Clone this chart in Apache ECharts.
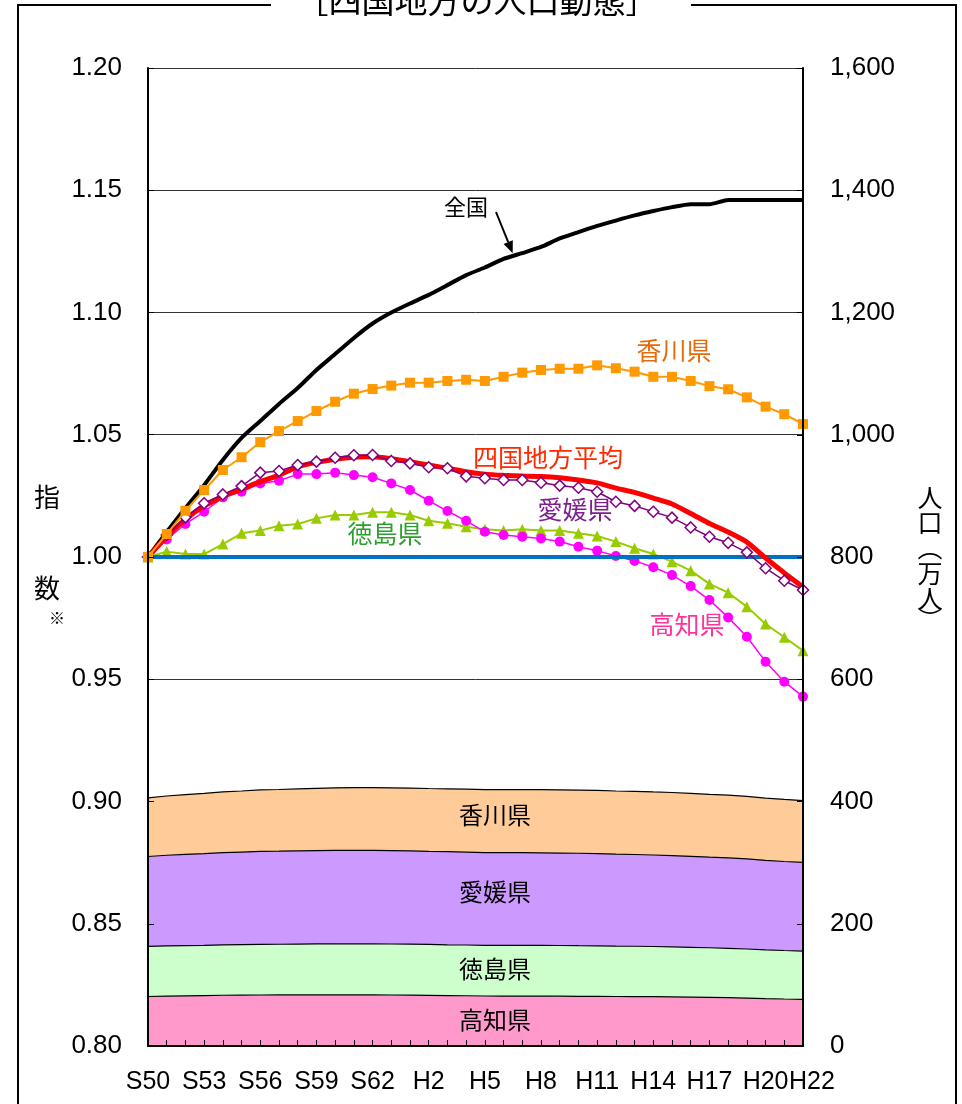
<!DOCTYPE html>
<html><head><meta charset="utf-8">
<script src="https://cdn.jsdelivr.net/npm/echarts@6/dist/echarts.min.js"></script>
<style>html,body{margin:0;padding:0;background:#fff}#c{width:962px;height:1104px}</style>
</head><body><div id="c"></div>
<script>
// categories (years: S50=1975 ... H22=2010)
const categories = ['S50','S51','S52','S53','S54','S55','S56','S57','S58','S59','S60','S61','S62','S63',
  'H1','H2','H3','H4','H5','H6','H7','H8','H9','H10','H11','H12','H13','H14','H15','H16','H17','H18','H19','H20','H21','H22'];

// index series (1975 = 1.00), left axis
const zenkoku   = [1.000,1.0102,1.020,1.0294,1.0397,1.0487,1.0556,1.0626,1.0691,1.0765,1.083,1.0896,1.0955,1.100,1.1037,1.1072,1.1112,1.1153,1.1184,1.1219,1.1243,1.1268,1.1303,1.1329,1.1354,1.1376,1.1397,1.1415,1.1431,1.1443,1.1443,1.146,1.146,1.146,1.146,1.146];
const shikoku   = [1.000,1.0083,1.0154,1.0209,1.0247,1.0277,1.0308,1.0335,1.0369,1.0387,1.040,1.0408,1.041,1.0402,1.039,1.0376,1.0363,1.0349,1.0339,1.0334,1.0331,1.0329,1.0324,1.0315,1.0303,1.0282,1.0264,1.0241,1.0217,1.0178,1.0137,1.0102,1.0061,0.9996,0.9935,0.9877];
const kagawa    = [1.000,1.0094,1.0189,1.0274,1.0356,1.0408,1.047,1.0515,1.0556,1.0597,1.0635,1.0668,1.0687,1.0701,1.0713,1.0713,1.072,1.0725,1.072,1.0737,1.0754,1.0765,1.077,1.077,1.0784,1.0772,1.0758,1.0737,1.0737,1.072,1.0699,1.0686,1.0653,1.0615,1.0584,1.0544];
const ehime     = [1.000,1.009,1.0162,1.022,1.0256,1.029,1.0345,1.0352,1.0376,1.039,1.0406,1.0416,1.0417,1.0393,1.0383,1.0367,1.0363,1.033,1.0322,1.0315,1.0315,1.0304,1.0292,1.0283,1.0267,1.0226,1.0209,1.0185,1.0161,1.0121,1.0083,1.0058,1.0019,0.9954,0.9903,0.9865];
const tokushima = [1.000,1.0022,1.0012,1.0012,1.0053,1.0097,1.0108,1.0128,1.0135,1.0158,1.0172,1.0172,1.0183,1.0183,1.0172,1.0148,1.0138,1.0124,1.0113,1.0108,1.0113,1.0108,1.0108,1.0097,1.0086,1.0063,1.0036,1.0012,0.9981,0.9944,0.989,0.9854,0.9797,0.9726,0.9672,0.9617];
const kochi     = [1.000,1.0072,1.0135,1.0185,1.0244,1.0267,1.0301,1.0312,1.0339,1.0339,1.0345,1.0335,1.0326,1.0301,1.0274,1.023,1.0188,1.0148,1.0103,1.009,1.0083,1.0076,1.0063,1.0042,1.0026,1.0004,0.9984,0.9958,0.9926,0.9881,0.9824,0.9753,0.9674,0.9572,0.949,0.9429];
const baseIndex = 1.00;

// population (万人), right axis, stacked
const popKochi     = [81.0,81.6,82.1,82.5,83.0,83.2,83.4,83.5,83.7,83.7,83.8,83.7,83.6,83.4,83.2,82.9,82.5,82.2,81.8,81.7,81.7,81.6,81.5,81.3,81.2,81.0,80.9,80.7,80.4,80.0,79.6,79.0,78.4,77.5,76.9,76.4];
const popTokushima = [82.0,82.2,82.1,82.1,82.4,82.8,82.9,83.0,83.1,83.3,83.4,83.4,83.5,83.5,83.4,83.2,83.1,83.0,82.9,82.9,82.9,82.9,82.9,82.8,82.7,82.5,82.3,82.1,81.8,81.5,81.1,80.8,80.3,79.8,79.3,78.9];
const popEhime     = [147.0,148.3,149.4,150.2,150.8,151.3,152.1,152.2,152.5,152.7,153.0,153.1,153.1,152.8,152.6,152.4,152.3,151.9,151.7,151.6,151.6,151.5,151.3,151.2,150.9,150.3,150.1,149.7,149.4,148.8,148.2,147.9,147.3,146.3,145.6,145.0];
const popKagawa    = [96.0,96.9,97.8,98.6,99.4,99.9,100.5,100.9,101.3,101.7,102.1,102.4,102.6,102.7,102.8,102.8,102.9,103.0,102.9,103.1,103.2,103.3,103.4,103.4,103.5,103.4,103.3,103.1,103.1,102.9,102.7,102.6,102.3,101.9,101.6,101.2];

// tick labels
const leftTicks  = ['0.80','0.85','0.90','0.95','1.00','1.05','1.10','1.15','1.20'];
const rightTicks = ['0','200','400','600','800','1,000','1,200','1,400','1,600'];

const NUMF = '"Liberation Sans", Arial, sans-serif';
const JPF = '"Noto Sans CJK JP", sans-serif';

const chart = echarts.init(document.getElementById('c'), null, {renderer:'canvas'});

function areaSeries(name, data, color){
  return {name, type:'line', yAxisIndex:1, stack:'pop', data, symbol:'none', z:1,
    lineStyle:{color:'#000', width:1.2}, areaStyle:{color, opacity:1}, silent:true};
}
function txt(text, x, y, size, color){
  return {type:'text', x, y, z:100, style:{text, font: size+'px '+JPF, fill:color, align:'center', verticalAlign:'middle'}};
}

const option = {
  animation:false,
  backgroundColor:'#fff',
  grid:{left:148, right:159, top:68, bottom:58},
  xAxis:{type:'category', data:categories, boundaryGap:false, z:10,
    axisLine:{lineStyle:{color:'#000', width:2}},
    axisTick:{inside:true, length:6, interval:0, lineStyle:{color:'#000', width:1}},
    axisLabel:{interval:(i)=> i%3===0 || i===categories.length-1, margin:24, color:'#000',
      fontSize:25, fontFamily:NUMF,
      formatter:(v,i)=> i===categories.length-1 ? '{last|'+v+'}' : v,
      rich:{last:{fontSize:25, fontFamily:NUMF, color:'#000', padding:[0,0,0,18]}}}
  },
  yAxis:[
    {type:'value', min:0.8, max:1.2, interval:0.05, position:'left',
      axisLine:{show:false}, axisTick:{show:false},
      axisLabel:{formatter:(v)=> leftTicks[Math.round((v-0.8)/0.05)], fontSize:26, fontFamily:NUMF, color:'#000', margin:26, padding:[6,0,0,0]},
      splitLine:{show:true, lineStyle:{color:'#333', width:1}}},
    {type:'value', min:0, max:1600, interval:200, position:'right',
      axisLine:{show:false}, axisTick:{show:false},
      axisLabel:{formatter:(v)=> rightTicks[Math.round(v/200)], fontSize:26, fontFamily:NUMF, color:'#000', margin:27, padding:[6,0,0,0]},
      splitLine:{show:false}},
    {type:'value', min:0.8, max:1.2, interval:0.05, position:'left', z:10,
      axisLine:{show:true, lineStyle:{color:'#000', width:2}},
      axisTick:{show:true, inside:true, length:6, lineStyle:{color:'#000'}},
      axisLabel:{show:false}, splitLine:{show:false}},
    {type:'value', min:0, max:1600, interval:200, position:'right', z:10,
      axisLine:{show:true, lineStyle:{color:'#000', width:2}},
      axisTick:{show:true, inside:true, length:6, lineStyle:{color:'#000'}},
      axisLabel:{show:false}, splitLine:{show:false}}
  ],
  series:[
    areaSeries('高知県(人口)', popKochi, '#FF99CC'),
    areaSeries('徳島県(人口)', popTokushima, '#CCFFCC'),
    areaSeries('愛媛県(人口)', popEhime, '#CC99FF'),
    areaSeries('香川県(人口)', popKagawa, '#FFCC99'),
    {name:'全国', type:'line', data:zenkoku, z:2, symbol:'none', smooth:0.2,
      lineStyle:{color:'#000', width:4}},
    {name:'徳島県', type:'line', data:tokushima, z:3, symbol:'triangle', symbolSize:11, showAllSymbol:true,
      itemStyle:{color:'#99CC00'}, lineStyle:{color:'#99CC00', width:2}},
    {name:'高知県', type:'line', data:kochi, z:4, symbol:'circle', symbolSize:10, showAllSymbol:true,
      itemStyle:{color:'#FF00FF'}, lineStyle:{color:'#FF00FF', width:1.5}},
    {name:'基準', type:'line', data:[], z:5,
      markLine:{silent:true, symbol:'none', label:{show:false},
        lineStyle:{color:'#0070C0', width:4, type:'solid'}, data:[{yAxis:baseIndex}]}},
    {name:'四国地方平均', type:'line', data:shikoku, z:6, symbol:'none', smooth:0.2,
      lineStyle:{color:'#FF0000', width:5}},
    {name:'愛媛県', type:'line', data:ehime, z:7, symbol:'diamond', symbolSize:11, showAllSymbol:true,
      itemStyle:{color:'#FFFFFF', borderColor:'#800080', borderWidth:1.5}, lineStyle:{color:'#800080', width:1.5}},
    {name:'香川県', type:'line', data:kagawa, z:8, symbol:'rect', symbolSize:10, showAllSymbol:true,
      itemStyle:{color:'#FF9900'}, lineStyle:{color:'#FF9900', width:2}}
  ],
  graphic:[
    // frame
    {type:'polyline', z:100, shape:{points:[[271,5],[18,5],[18,1104]]}, style:{stroke:'#000', lineWidth:2, fill:null}},
    {type:'polyline', z:100, shape:{points:[[691,5],[956,5],[956,1104]]}, style:{stroke:'#000', lineWidth:2, fill:null}},
    txt('［四国地方の人口動態］', 477, 0, 33, '#000'),
    // left axis title
    txt('指', 47, 497, 26, '#000'),
    txt('数', 47, 588, 26, '#000'),
    txt('※', 57, 618, 16, '#000'),
    // right axis title (vertical)
    txt('人', 930, 497, 25, '#000'),
    txt('口', 930, 522, 25, '#000'),
    txt('︵', 930, 547, 25, '#000'),
    txt('万', 930, 573, 25, '#000'),
    txt('人', 930, 598, 25, '#000'),
    txt('︶', 930, 619, 25, '#000'),
    // series labels
    txt('全国', 466, 207, 22, '#000'),
    {type:'polyline', z:100, shape:{points:[[496,212],[508.2,242.2]]}, style:{stroke:'#000', lineWidth:2, fill:null}},
    {type:'polygon', z:100, shape:{points:[[512.7,253.3],[503.6,244.1],[512.8,240.3]]}, style:{fill:'#000'}},
    txt('香川県', 674, 350, 25, '#E46C0A'),
    txt('四国地方平均', 548, 457, 25, '#FF2A00'),
    txt('愛媛県', 575, 509, 25, '#7F1F8F'),
    txt('徳島県', 385, 533, 25, '#2E9E2E'),
    txt('高知県', 687, 624, 25, '#FF3399'),
    // area labels
    txt('香川県', 495, 815, 24, '#000'),
    txt('愛媛県', 495, 892, 24, '#000'),
    txt('徳島県', 495, 969, 24, '#000'),
    txt('高知県', 495, 1020, 24, '#000')
  ]
};
chart.setOption(option);
</script>
</body></html>
